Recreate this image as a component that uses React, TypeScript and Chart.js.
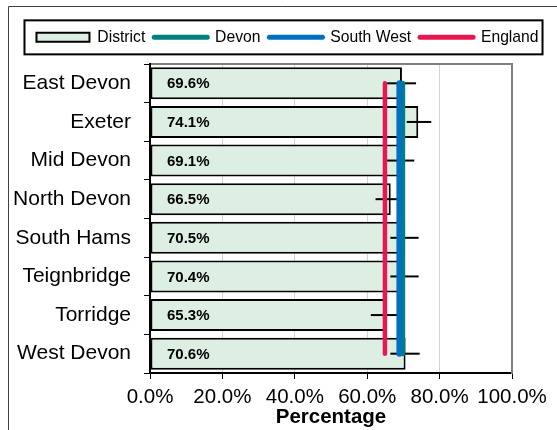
import React, { useEffect, useRef } from "react";
import { Chart, registerables } from "chart.js";

Chart.register(...registerables);

const districts = [
  "East Devon",
  "Exeter",
  "Mid Devon",
  "North Devon",
  "South Hams",
  "Teignbridge",
  "Torridge",
  "West Devon",
];
const districtValues = [69.6, 74.1, 69.1, 66.5, 70.5, 70.4, 65.3, 70.6];
const ciLower = [65.5, 70.9, 65.5, 62.3, 66.4, 66.4, 61.0, 66.4];
const ciUpper = [73.5, 77.7, 73.0, 70.4, 74.2, 74.2, 69.6, 74.5];
const devonValues = [69.8, 69.8, 69.8, 69.8, 69.8, 69.8, 69.8, 69.8];
const southWestValues = [68.9, 68.9, 68.9, 68.9, 68.9, 68.9, 68.9, 68.9];
const englandValues = [64.9, 64.9, 64.9, 64.9, 64.9, 64.9, 64.9, 64.9];
const xTickValues = [0, 20, 40, 60, 80, 100];
const xTickLabels = ["0.0%", "20.0%", "40.0%", "60.0%", "80.0%", "100.0%"];

const FONT = "'Liberation Sans', Arial, sans-serif";
const BAR_FILL = "#ddefe3";
const TEAL = "#008080";
const BLUE = "#0070c0";
const RED = "#e8174f";
const LEGEND_SHIFT = 9;

const framePlugin = {
  id: "frame",
  afterUpdate(chart: any) {
    const lg = chart.legend;
    if (!lg) return;
    lg.left += LEGEND_SHIFT;
    lg.right += LEGEND_SHIFT;
    (lg.legendHitBoxes || []).forEach((h: any) => {
      h.left += LEGEND_SHIFT;
    });
  },
  beforeDraw(chart: any) {
    const ctx = chart.ctx;
    ctx.save();
    ctx.fillStyle = "#ffffff";
    ctx.fillRect(0, 0, chart.width, chart.height);
    ctx.strokeStyle = "#404040";
    ctx.lineWidth = 1;
    ctx.beginPath();
    ctx.moveTo(8.5, chart.height);
    ctx.lineTo(8.5, 6.5);
    ctx.lineTo(chart.width, 6.5);
    ctx.stroke();
    ctx.restore();
  },
  afterDraw(chart: any) {
    const lg = chart.legend;
    if (!lg || !lg.legendHitBoxes || !lg.legendHitBoxes.length) return;
    const hb = lg.legendHitBoxes;
    const first = hb[0];
    const last = hb[hb.length - 1];
    const cy = first.top + first.height / 2;
    const ctx = chart.ctx;
    ctx.save();
    ctx.strokeStyle = "#000";
    ctx.lineWidth = 2;
    const l = first.left - 12;
    const r = last.left + last.width + 4;
    ctx.strokeRect(l, cy - 17, r - l, 34);
    ctx.restore();
  },
};

const errorBarPlugin = {
  id: "errorBars",
  afterDatasetDraw(chart: any, args: any) {
    if (args.index !== 0) return;
    const ctx = chart.ctx;
    const xs = chart.scales.x;
    const meta = chart.getDatasetMeta(0);
    ctx.save();
    ctx.strokeStyle = "#000";
    ctx.lineWidth = 2;
    meta.data.forEach((bar: any, i: number) => {
      const y = bar.y;
      ctx.beginPath();
      ctx.moveTo(xs.getPixelForValue(ciLower[i]), y);
      ctx.lineTo(xs.getPixelForValue(ciUpper[i]), y);
      ctx.stroke();
    });
    ctx.fillStyle = "#000";
    ctx.font = `bold 15px ${FONT}`;
    ctx.textAlign = "left";
    ctx.textBaseline = "middle";
    meta.data.forEach((bar: any, i: number) => {
      ctx.fillText(`${districtValues[i].toFixed(1)}%`, xs.getPixelForValue(0) + 17, bar.y + 1);
    });
    ctx.restore();
  },
};

export default function App() {
  const ref = useRef<HTMLCanvasElement | null>(null);

  useEffect(() => {
    if (!ref.current) return;
    const chart = new Chart(ref.current, {
      type: "bar",
      data: {
        labels: districts,
        datasets: [
          {
            type: "bar",
            label: "District",
            data: districtValues,
            backgroundColor: BAR_FILL,
            borderColor: "#000",
            borderWidth: 2,
            borderSkipped: false,
            barPercentage: 0.83,
            categoryPercentage: 1,
            order: 4,
            xAxisID: "x",
            yAxisID: "y",
          },
          {
            type: "line",
            label: "Devon",
            data: devonValues,
            borderColor: TEAL,
            backgroundColor: TEAL,
            borderWidth: 5,
            borderCapStyle: "round",
            pointRadius: 0,
            tension: 0,
            order: 3,
            xAxisID: "x",
            yAxisID: "y",
          },
          {
            type: "line",
            label: "South West",
            data: southWestValues,
            borderColor: BLUE,
            backgroundColor: BLUE,
            borderWidth: 6,
            borderCapStyle: "round",
            pointRadius: 0,
            tension: 0,
            order: 2,
            xAxisID: "x",
            yAxisID: "y",
          },
          {
            type: "line",
            label: "England",
            data: englandValues,
            borderColor: RED,
            backgroundColor: RED,
            borderWidth: 4.5,
            borderCapStyle: "round",
            pointRadius: 0,
            tension: 0,
            order: 1,
            xAxisID: "x",
            yAxisID: "y",
          },
        ] as any,
      },
      options: {
        indexAxis: "y",
        animation: false,
        responsive: false,
        devicePixelRatio: 1,
        layout: { padding: { top: 20.5, left: 0, right: 0, bottom: 0 } },
        plugins: {
          tooltip: { enabled: false },
          title: { display: false },
          legend: {
            display: true,
            position: "top",
            maxHeight: 30,
            labels: {
              font: { family: FONT, size: 15.7 },
              color: "#000",
              usePointStyle: true,
              pointStyleWidth: 53,
              boxHeight: 9,
              padding: 9,
              generateLabels: (c: any) =>
                c.data.datasets.map((ds: any, i: number) => ({
                  text: ds.label,
                  datasetIndex: i,
                  fillStyle: i === 0 ? BAR_FILL : ds.borderColor,
                  strokeStyle: i === 0 ? "#000" : ds.borderColor,
                  lineWidth: i === 0 ? 2 : 5,
                  lineCap: i === 0 ? "butt" : "round",
                  pointStyle: i === 0 ? "rect" : "line",
                  hidden: false,
                  fontColor: "#000",
                })),
            },
          },
        },
        scales: {
          x: {
            type: "linear",
            position: "bottom",
            min: 0,
            max: 100,
            afterBuildTicks: (s: any) => {
              s.ticks = xTickValues.map((v) => ({ value: v }));
            },
            afterFit: (s: any) => {
              s.height = 57;
            },
            ticks: {
              color: "#000",
              font: { family: FONT, size: 20.5 },
              padding: 6,
              maxRotation: 0,
              autoSkip: false,
              callback: (v: any) => xTickLabels[xTickValues.indexOf(Number(v))],
            },
            grid: {
              color: "#d4d4d4",
              lineWidth: 1,
              tickColor: "#000",
              tickLength: 6,
            },
            border: { color: "#000", width: 2 },
            title: {
              display: true,
              text: "Percentage",
              color: "#000",
              font: { family: FONT, size: 20.5, weight: "bold" },
              padding: { top: 0, bottom: 0 },
            },
          },
          xTop: {
            type: "linear",
            position: "top",
            min: 0,
            max: 100,
            ticks: { display: false },
            grid: { display: false, drawTicks: false },
            border: { display: true, color: "#808080", width: 2 },
            afterFit: (s: any) => {
              s.height = 13.5;
            },
          },
          y: {
            type: "category",
            position: "left",
            offset: true,
            afterFit: (s: any) => {
              s.width = 150;
            },
            ticks: {
              color: "#000",
              font: { family: FONT, size: 21 },
              padding: 13,
              autoSkip: false,
            },
            grid: {
              offset: true,
              drawOnChartArea: false,
              color: "#000",
              tickLength: 6,
            },
            border: { color: "#000", width: 2 },
          },
          yRight: {
            type: "category",
            position: "right",
            offset: true,
            ticks: { display: false },
            grid: { display: false, drawTicks: false },
            border: { display: true, color: "#808080", width: 2 },
            afterFit: (s: any) => {
              s.width = 45;
            },
          },
        },
      } as any,
      plugins: [framePlugin, errorBarPlugin],
    });
    return () => chart.destroy();
  }, []);

  return (
    <div style={{ position: "absolute", left: 0, top: 0, width: 557, height: 430 }}>
      <canvas ref={ref} width={557} height={430} style={{ display: "block", width: 557, height: 430 }} />
    </div>
  );
}
